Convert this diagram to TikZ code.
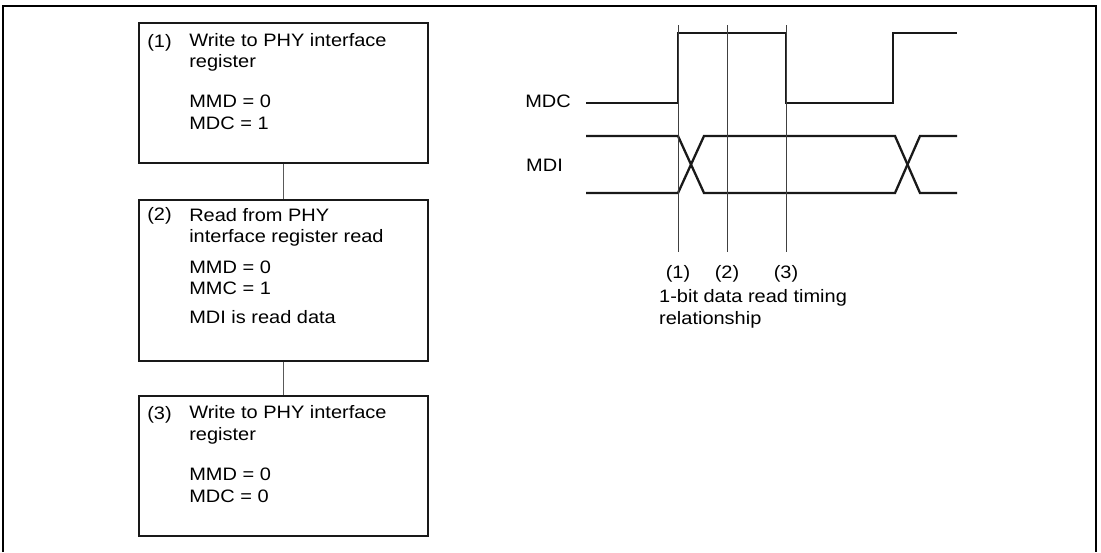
\documentclass[tikz,border=0pt]{standalone}
\usepackage{fontspec}
\setmainfont{Liberation Sans}[FakeStretch=1.11]
\usetikzlibrary{positioning,calc}
\tikzset{
  stepbox/.style={rectangle, draw=black!90, line width=1.8pt, minimum width=289pt,
                  minimum height=140pt, inner sep=0pt},
  link/.style={draw=black!65, line width=0.9pt},
  num/.style={anchor=base west, inner sep=0pt},
  txt/.style={anchor=base west, inner sep=0pt, align=left},
  wave/.style={draw=black!90, line width=2.3pt, line join=miter},
  tick/.style={draw=black!75, line width=0.8pt},
}

\begin{document}
\begin{tikzpicture}[x=1pt, y=-1pt,
  every node/.style={font=\fontsize{18}{21.5}\selectfont}]
  \useasboundingbox (0,0) rectangle (1101,552);
  \draw[line width=2.2pt] (3,552) -- (3,6) -- (1096,6) -- (1096,552);

  % flow of the three steps (txt nodes sit on their last line)
  \node[stepbox] (b1) at (283.5,93) {};
  \node[stepbox, minimum height=161pt] (b2) at (283.5,280.5) {};
  \node[stepbox] (b3) at (283.5,466) {};
  \draw[link] (b1.south) -- (b2.north);
  \draw[link] (b2.south) -- (b3.north);

  \node[num] (n1) at ($(b1.north west)+(9,25)$) {(1)};
  \node[txt] (t1) at ($(b1.north west)+(51,107)$)
    {Write to PHY interface\\register\\[18.5pt]MMD = 0\\MDC = 1};
  \node[num] (n2) at ($(b2.north west)+(9,21)$) {(2)};
  \node[txt] (t2) at ($(b2.north west)+(51,124)$)
    {Read from PHY\\interface register read\\[9pt]MMD = 0\\MMC = 1\\[7pt]MDI is read data};
  \node[num] (n3) at ($(b3.north west)+(9,24)$) {(3)};
  \node[txt] (t3) at ($(b3.north west)+(51,107)$)
    {Write to PHY interface\\register\\[19pt]MMD = 0\\MDC = 0};

  % timing of one read bit
  \node[anchor=base east, inner sep=0pt] (mdc) at (571,107) {MDC};
  \node[anchor=base west, inner sep=0pt] (mdi) at (526,171) {MDI};
  \draw[wave] (586,103) -- (678,103) -- (678,33) -- (786,33) -- (786,103)
    -- (893,103) -- (893,33) -- (957,33);
  \draw[wave] (586,136) -- (678,136) -- (704,193) -- (895,193) -- (920,136) -- (957,136);
  \draw[wave] (586,193) -- (678,193) -- (704,136) -- (895,136) -- (920,193) -- (957,193);

  \foreach \x/\t in {678/1, 727/2, 786/3} {
    \draw[tick] (\x,25) -- (\x,252);
    \node[anchor=base, inner sep=0pt] (p\t) at (\x,278) {(\t)};
  }
  \node[txt] (cap) at (659,324) {1-bit data read timing\\relationship};
\end{tikzpicture}
\end{document}
